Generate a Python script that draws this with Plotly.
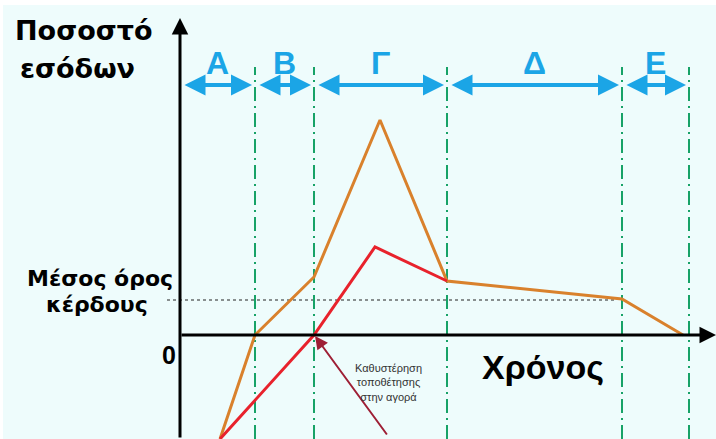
import plotly.graph_objects as go

# Product life-cycle: phase boundaries along the time axis
phase_bounds = [0, 7.5, 13.4, 26.7, 44.2, 50.9]
phase_labels = ["Α", "Β", "Γ", "Δ", "Ε"]

# Revenue curve (orange)
revenue_t = [4.0, 7.5, 13.4, 20.0, 26.7, 44.2, 50.3]
revenue_v = [-10.4, 0.0, 5.8, 21.5, 5.4, 3.6, 0.0]

# Delayed market entry curve (red)
delayed_t = [4.0, 13.4, 19.5, 26.7]
delayed_v = [-10.4, 0.0, 8.8, 5.4]

# Average profit level
avg_profit = 3.5
avg_span = [-1.3, 43.7]

X_RANGE = [-18.0, 53.6]
Y_RANGE = [-10.4, 33.5]

BLUE = "#1ba5e6"
GREEN = "#17a267"
ORANGE = "#d9812c"
RED = "#e8222c"
DARKRED = "#9e1f35"
BG = "#eefcfc"
FONT = "Liberation Sans"

fig = go.Figure()

fig.add_trace(go.Scatter(x=revenue_t, y=revenue_v, mode="lines",
                         line=dict(color=ORANGE, width=3), hoverinfo="skip"))
fig.add_trace(go.Scatter(x=delayed_t, y=delayed_v, mode="lines",
                         line=dict(color=RED, width=3), hoverinfo="skip"))

shapes = [
    dict(type="rect", xref="paper", yref="paper", x0=3 / 716, x1=1, y0=0, y1=1 - 5 / 439,
         fillcolor=BG, line=dict(width=0), layer="below"),
    dict(type="line", x0=avg_span[0], x1=avg_span[1], y0=avg_profit, y1=avg_profit,
         line=dict(color="#222", width=1, dash="dot"), layer="below"),
]
for b in phase_bounds[1:]:
    shapes.append(dict(type="line", x0=b, x1=b, y0=Y_RANGE[0], y1=26.8,
                       line=dict(color=GREEN, width=2, dash="14px,5px,2px,5px"),
                       layer="below"))

annotations = []
# axes with arrow tips
annotations.append(dict(x=0, y=31.7, ax=0, ay=Y_RANGE[0], xref="x", yref="y",
                        axref="x", ayref="y", text="", showarrow=True,
                        arrowhead=2, arrowsize=1.1, arrowwidth=3, arrowcolor="#000"))
annotations.append(dict(x=53.6, y=0, ax=0, ay=0, xref="x", yref="y",
                        axref="x", ayref="y", text="", showarrow=True,
                        arrowhead=2, arrowsize=1.1, arrowwidth=3, arrowcolor="#000"))

# phase spans with double arrows and labels
for i, lab in enumerate(phase_labels):
    a, b = phase_bounds[i], phase_bounds[i + 1]
    annotations.append(dict(x=b - 0.3, y=25.0, ax=a + 0.3, ay=25.0, xref="x", yref="y",
                            axref="x", ayref="y", text="", showarrow=True,
                            arrowhead=2, arrowside="end+start", arrowsize=1.05,
                            arrowwidth=4, arrowcolor=BLUE))
    annotations.append(dict(x=(a + b) / 2, y=27.2, text=lab, showarrow=False,
                            font=dict(family=FONT, size=32, color=BLUE, weight="bold")))

# market-entry delay pointer
annotations.append(dict(x=13.5, y=-0.1, ax=20.8, ay=-10.1, xref="x", yref="y",
                        axref="x", ayref="y", text="", showarrow=True,
                        arrowhead=2, arrowsize=1.3, arrowwidth=2, arrowcolor=DARKRED))
annotations.append(dict(x=20.8, y=-4.7, text="Καθυστέρηση<br>τοποθέτησης<br>στην αγορά",
                        showarrow=False, align="center",
                        font=dict(family=FONT, size=11, color="#333")))

annotations.append(dict(x=-9.6, y=30.5, text="Ποσοστό", showarrow=False,
                        font=dict(family="DejaVu Sans", size=27, color="#000", weight="bold")))
annotations.append(dict(x=-10.3, y=26.7, text="εσόδων", showarrow=False,
                        font=dict(family="DejaVu Sans", size=27, color="#000", weight="bold")))
annotations.append(dict(x=-8.0, y=5.7, text="Μέσος όρος", showarrow=False,
                        font=dict(family="DejaVu Sans", size=22, color="#000", weight="bold")))
annotations.append(dict(x=-8.3, y=3.1, text="κέρδους", showarrow=False,
                        font=dict(family="DejaVu Sans", size=22, color="#000", weight="bold")))
annotations.append(dict(x=-1.1, y=-2.0, text="0", showarrow=False,
                        font=dict(family=FONT, size=25, color="#000", weight="bold")))
annotations.append(dict(x=36.3, y=-3.2, text="Χρόνος", showarrow=False,
                        font=dict(family=FONT, size=34, color="#000", weight="bold")))

fig.update_layout(
    width=716, height=439,
    margin=dict(l=0, r=0, t=0, b=0),
    paper_bgcolor="white", plot_bgcolor="rgba(0,0,0,0)",
    showlegend=False,
    xaxis=dict(range=X_RANGE, visible=False, fixedrange=True),
    yaxis=dict(range=Y_RANGE, visible=False, fixedrange=True),
    shapes=shapes, annotations=annotations,
)

fig.write_html("out.html", config={"displayModeBar": False})
